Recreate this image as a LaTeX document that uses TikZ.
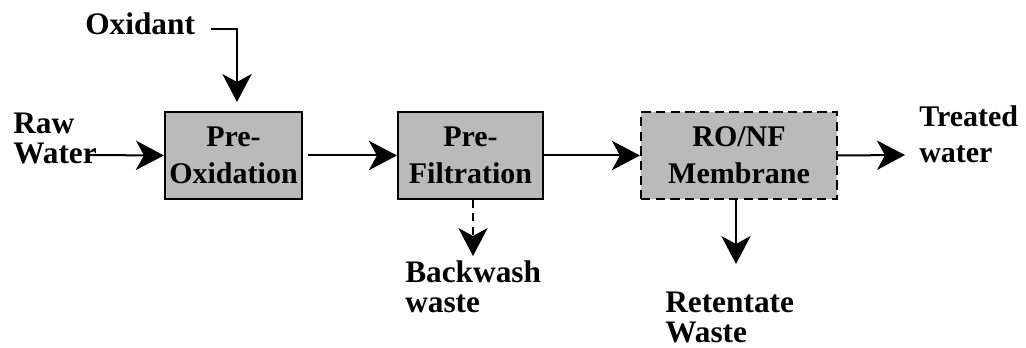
\documentclass[tikz,border=0pt]{standalone}
\usepackage{fontspec}
\setmainfont{Liberation Serif}[BoldFont={Liberation Serif Bold}]
\newfontfamily\flowfont{Liberation Serif Bold}
\usetikzlibrary{arrows.meta}
\begin{document}
\begin{tikzpicture}[x=0.75pt,y=-0.75pt,
  lbl/.style={font=\flowfont\fontsize{23.5}{23}\selectfont, inner sep=0pt, align=left, anchor=base west},
  proc/.style={draw, line width=1.6pt, fill=black!27, inner sep=0pt, minimum height=65.25pt,
    align=center, font=\flowfont\fontsize{22.5}{27.5}\selectfont},
  flow/.style={line width=1.5pt, -{Stealth[length=21pt,width=22pt,inset=6pt]}},
]
\useasboundingbox (0,0) rectangle (1026,348);

% process units
\node[proc, minimum width=102.75pt] (preox) at (233.5,155.5) {Pre-\\Oxidation};
\node[proc, minimum width=108.75pt] (prefilt) at (470.5,155.5) {Pre-\\Filtration};
\node[proc, minimum width=147pt, dash pattern=on 7pt off 4pt] (membrane) at (739,155.5) {RO/NF\\Membrane};

% stream labels (placed at the baseline of their last line)
\node[lbl] (raw) at (13,164) {Raw\\Water};
\node[lbl] (oxidant) at (85,35) {Oxidant};
\node[lbl, font=\flowfont\fontsize{22.5}{23}\selectfont] (treated) at (919,163) {Treated\\[4pt]water};
\node[lbl] (backwash) at (405,313) {Backwash\\waste};
\node[lbl] (retentate) at (665,343) {Retentate\\Waste};

% free ends of the connectors
\coordinate (rawend) at (86,155);
\coordinate (oxstart) at (211,29);
\coordinate (oxtip) at (237,102);
\coordinate (bwtip) at (473,256);
\coordinate (rttip) at (736,264);
\coordinate (trtip) at (905,155);

% flows
\draw[flow] (rawend) -- (preox.west);
\draw[flow] (oxstart) -| (oxtip);
\draw[flow] ([xshift=4pt]preox.east) -- (prefilt.west);
\draw[flow] (prefilt.east) -- (membrane.west);
\draw[flow] (membrane.east) -- (trtip);
\draw[flow, dash pattern=on 6pt off 4pt] (bwtip |- prefilt.south) -- (bwtip);
\draw[flow] (rttip |- membrane.south) -- (rttip);
\end{tikzpicture}
\end{document}
